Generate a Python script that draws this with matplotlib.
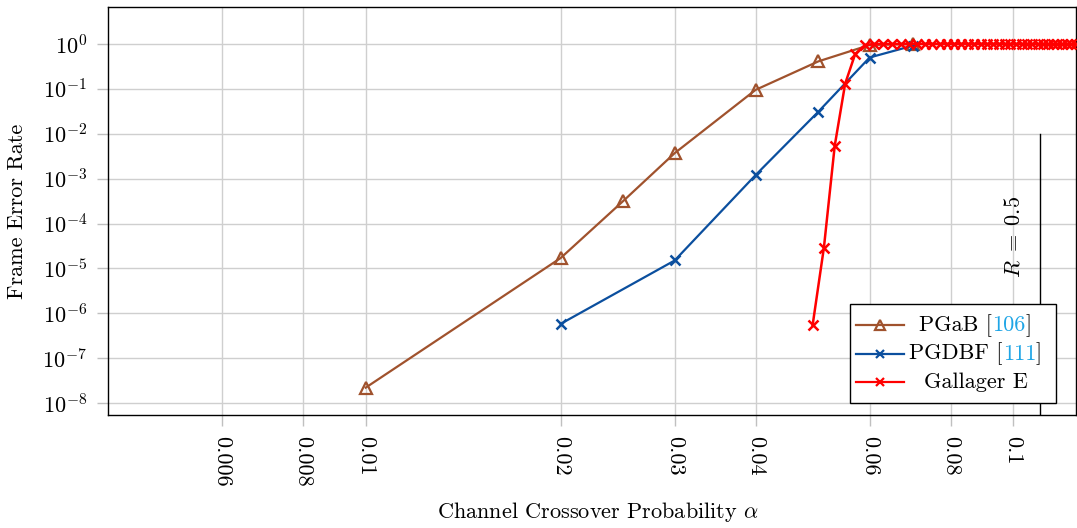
import numpy as np
import matplotlib
matplotlib.use('Agg')
import matplotlib.pyplot as plt
from matplotlib.lines import Line2D
from matplotlib.offsetbox import AnchoredOffsetbox, VPacker, HPacker, TextArea, DrawingArea
from matplotlib.ticker import FixedLocator, FixedFormatter, NullLocator

plt.rcParams['font.family'] = ['cmr10', 'DejaVu Serif']
plt.rcParams['mathtext.fontset'] = 'cm'
plt.rcParams['axes.formatter.use_mathtext'] = True
plt.rcParams['axes.unicode_minus'] = False

# data
pgab_x = [0.01, 0.02, 0.025, 0.03, 0.04, 0.05, 0.06, 0.07]
pgab_y = [2.2e-8, 1.7e-5, 3.2e-4, 3.7e-3, 9.5e-2, 0.41, 0.95, 1.0]

pgdbf_x = [0.02, 0.03, 0.04, 0.05, 0.06, 0.07]
pgdbf_y = [5.8e-7, 1.5e-5, 1.2e-3, 3.1e-2, 0.5, 0.92]

gal_x = [0.049, 0.051, 0.053, 0.055, 0.057, 0.059,
         0.061, 0.063, 0.065, 0.067, 0.069, 0.071, 0.073, 0.075, 0.077, 0.079,
         0.081, 0.083, 0.085, 0.087, 0.089, 0.091, 0.093, 0.095, 0.097, 0.099,
         0.101, 0.103, 0.105, 0.107, 0.109, 0.111, 0.113, 0.115, 0.117, 0.119,
         0.121, 0.123, 0.125]
gal_y = [5.5e-7, 2.9e-5, 5.4e-3, 0.13, 0.6, 0.95,
         1.0, 1.0, 1.0, 1.0, 1.0, 1.0, 1.0, 1.0, 1.0, 1.0,
         1.0, 1.0, 1.0, 1.0, 1.0, 1.0, 1.0, 1.0, 1.0, 1.0,
         1.0, 1.0, 1.0, 1.0, 1.0, 1.0, 1.0, 1.0, 1.0, 1.0,
         1.0, 1.0, 1.0]

xticks = [0.006, 0.008, 0.01, 0.02, 0.03, 0.04, 0.06, 0.08, 0.1]
xticklabels = ['0.006', '0.008', '0.01', '0.02', '0.03', '0.04', '0.06', '0.08', '0.1']
yticks = [1e-8, 1e-7, 1e-6, 1e-5, 1e-4, 1e-3, 1e-2, 1e-1, 1e0]

rate_x = 0.11
rate_top = 1e-2

c_pgab = '#a0522d'
c_pgdbf = '#0b4f9e'
c_gal = '#ff0000'
c_ref = '#1fa5e6'
fs = 16

fig = plt.figure(figsize=(10.77, 5.28), dpi=100)
ax = fig.add_axes([0.1003, 0.214, 0.8988, 0.7727])
ax.set_xscale('log')
ax.set_yscale('log')
ax.set_xlim(0.004, 0.125)
ax.set_ylim(5.4e-9, 6.67)

ax.plot(pgab_x, pgab_y, color=c_pgab, lw=1.6, marker='^', ms=8, mfc='none', mew=1.6, zorder=3)
ax.plot(pgdbf_x, pgdbf_y, color=c_pgdbf, lw=1.6, marker='x', ms=6.5, mew=1.8, zorder=4)
ax.plot(gal_x, gal_y, color=c_gal, lw=1.8, marker='x', ms=6.5, mew=1.8, zorder=5)

ax.plot([rate_x, rate_x], [rate_top, 5.4e-9], color='black', lw=1, zorder=2)
ax.text(0.1002, 5e-5, r'$R\;=\;0.5$', rotation=90, ha='center', va='center', fontsize=fs)

ax.xaxis.set_major_locator(FixedLocator(xticks))
ax.xaxis.set_major_formatter(FixedFormatter(xticklabels))
ax.xaxis.set_minor_locator(NullLocator())
ax.yaxis.set_major_locator(FixedLocator(yticks))
ax.yaxis.set_minor_locator(NullLocator())
for lab in ax.get_xticklabels():
    lab.set_rotation(270)
    lab.set_va('top')
    lab.set_ha('center')
ax.tick_params(axis='both', direction='out', length=8, width=1, color='#c0c0c0',
               labelsize=fs, pad=7)
ax.grid(True, color='#cfcfcf', lw=1)
ax.set_axisbelow(True)
for s in ax.spines.values():
    s.set_linewidth(1)

ax.set_xlabel(r'Channel Crossover Probability $\alpha$', fontsize=fs)
ax.xaxis.set_label_coords(0.506, -0.208)
fig.text(17 / 1077, 1 - 211 / 528, 'Frame Error Rate', rotation=90, ha='center', va='center',
         fontsize=fs)

# legend with coloured citation numbers
H = 20.5


def handle(color, marker, mfc, ms):
    da = DrawingArea(34, H, 0, 0)
    da.add_artist(Line2D([0, 34], [H / 2, H / 2], color=color, lw=1.6))
    da.add_artist(Line2D([17], [H / 2], color=color, marker=marker, ms=ms, mfc=mfc, mew=1.6))
    return da


def label(parts):
    kids = [DrawingArea(0, H, 0, 0)]
    for t, c in parts:
        kids.append(TextArea(t, textprops=dict(color=c, fontsize=fs)))
    return HPacker(children=kids, align='center', pad=0, sep=0)


handles_col = VPacker(children=[handle(c_pgab, '^', 'none', 7),
                                handle(c_pgdbf, 'x', c_pgdbf, 6),
                                handle(c_gal, 'x', c_gal, 6)], pad=0, sep=0)
texts_col = VPacker(children=[label([('PGaB [', 'black'), ('106', c_ref), (']', 'black')]),
                              label([('PGDBF [', 'black'), ('111', c_ref), (']', 'black')]),
                              label([('Gallager E', 'black')])],
                    align='center', pad=0, sep=0)
content = HPacker(children=[handles_col, texts_col, DrawingArea(1, H, 0, 0)],
                  align='top', pad=0, sep=4)
box = AnchoredOffsetbox(loc='lower right', child=content, pad=0.3, borderpad=0,
                        frameon=True, bbox_to_anchor=(0.979, 0.029),
                        bbox_transform=ax.transAxes, prop=dict(size=fs))
box.patch.set_boxstyle('square', pad=0)
box.patch.set_edgecolor('black')
box.patch.set_linewidth(1)
box.set_zorder(10)
ax.add_artist(box)

fig.savefig('out.png', dpi=100)
